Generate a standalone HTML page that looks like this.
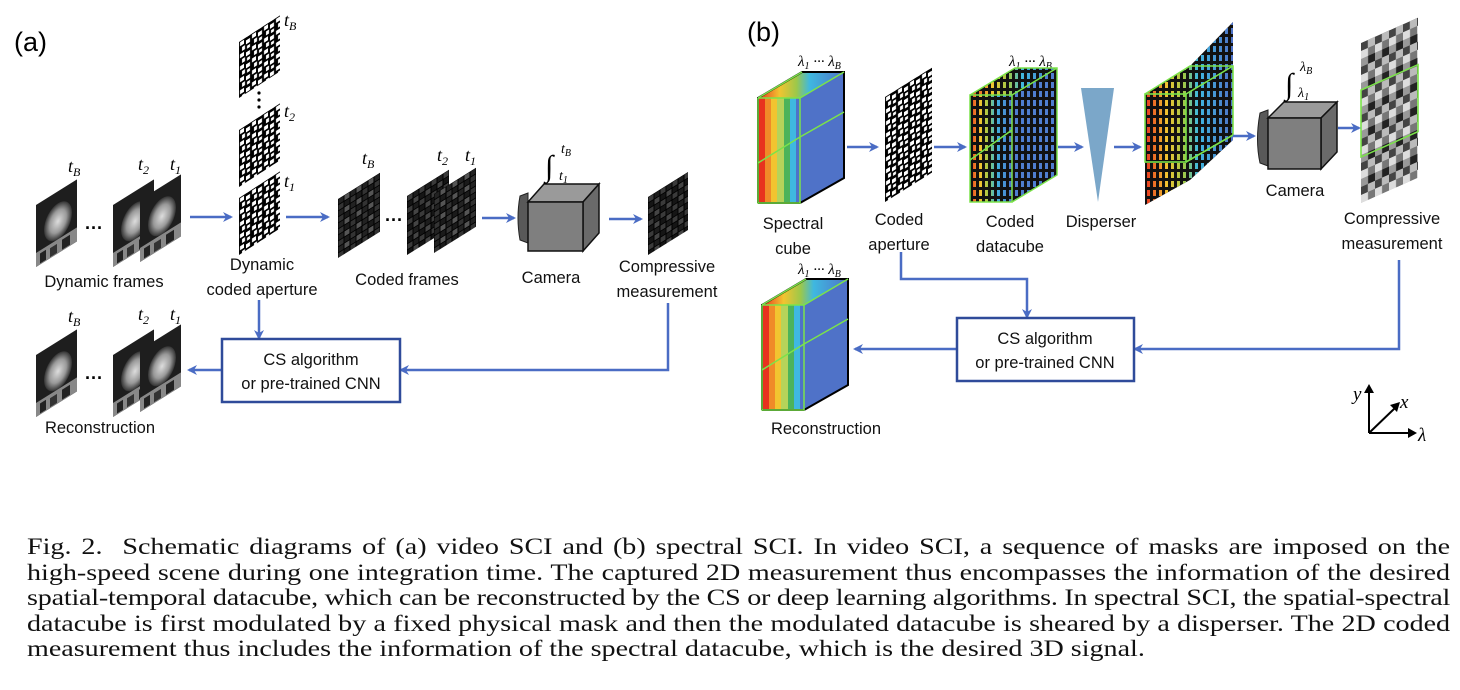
<!DOCTYPE html>
<html><head><meta charset="utf-8"><style>
body{margin:0;background:#fff;width:1460px;height:690px;overflow:hidden;position:relative}
.cap{position:absolute;left:27px;width:1166px;font-family:"Liberation Serif",serif;font-size:23px;line-height:25.5px;top:534px;color:#111;transform:scaleX(1.2205);transform-origin:0 0}
.cap div{text-align:justify;text-align-last:justify;white-space:nowrap}
.cap div.l{text-align-last:left}
.cap div.t{letter-spacing:-0.16px;word-spacing:-1px}
</style></head><body>
<svg width="1460" height="520" viewBox="0 0 1460 520" style="position:absolute;left:0;top:0" font-family="Liberation Sans, sans-serif">
<defs>
<marker id="ar" markerWidth="10" markerHeight="10" refX="8" refY="5" orient="auto" markerUnits="userSpaceOnUse"><path d="M0,0 L10,5 L0,10 L3,5 Z" fill="#4a6cc4"/></marker>
<pattern id="msk" width="12" height="12" patternUnits="userSpaceOnUse"><rect width="12" height="12" fill="#000"/><rect x="1" y="1" width="4" height="4" fill="#fff"/><rect x="7" y="3" width="4" height="4" fill="#fff"/><rect x="3" y="7" width="3" height="4" fill="#fff"/><rect x="8" y="9" width="3" height="3" fill="#fff"/></pattern>
<pattern id="cf" width="12" height="12" patternUnits="userSpaceOnUse"><rect width="12" height="12" fill="#000"/><rect x="0.5" y="0.5" width="5" height="5" fill="#222"/><rect x="6.5" y="0.5" width="5" height="5" fill="#555"/><rect x="0.5" y="6.5" width="5" height="5" fill="#333"/><rect x="6.5" y="6.5" width="5" height="5" fill="#1a1a1a"/></pattern>
<pattern id="cf2" width="12" height="12" patternUnits="userSpaceOnUse"><rect width="12" height="12" fill="#000"/><rect x="0.5" y="0.5" width="5" height="5" fill="#3a3a3a"/><rect x="6.5" y="0.5" width="5" height="5" fill="#1c1c1c"/><rect x="0.5" y="6.5" width="5" height="5" fill="#151515"/><rect x="6.5" y="6.5" width="5" height="5" fill="#444"/></pattern>
<pattern id="gm" width="14" height="24" patternUnits="userSpaceOnUse"><rect width="7" height="8" fill="#444"/><rect x="7" width="7" height="8" fill="#bbb"/><rect y="8" width="7" height="8" fill="#ddd"/><rect x="7" y="8" width="7" height="8" fill="#777"/><rect y="16" width="7" height="8" fill="#999"/><rect x="7" y="16" width="7" height="8" fill="#222"/></pattern>
<pattern id="wp" width="6" height="9" patternUnits="userSpaceOnUse"><rect x="1" y="1" width="3" height="6" fill="#fff"/></pattern>
<mask id="mk"><rect width="1460" height="520" fill="url(#wp)"/></mask>
<linearGradient id="spec" x1="0" x2="1"><stop offset="0" stop-color="#e8321e"/><stop offset=".25" stop-color="#f2c430"/><stop offset=".45" stop-color="#9cc84a"/><stop offset=".6" stop-color="#3fb8e0"/><stop offset="1" stop-color="#4f72c8"/></linearGradient>
<radialGradient id="blob" cx=".5" cy=".5" r=".5"><stop offset="0" stop-color="#ddd"/><stop offset=".6" stop-color="#999"/><stop offset="1" stop-color="#333"/></radialGradient>
<g id="frm"><rect width="41" height="62" fill="#1e1e1e"/><ellipse cx="22" cy="30" rx="14" ry="18" fill="url(#blob)"/><rect y="48" width="41" height="14" fill="#888"/><rect x="4" y="51" width="6" height="10" fill="#222"/><rect x="14" y="52" width="7" height="9" fill="#333"/><rect x="26" y="51" width="8" height="10" fill="#222"/></g>
</defs>

<text x="14" y="51" font-size="27">(a)</text>
<g font-family="Liberation Serif, serif" font-style="italic" font-size="18">
<text x="68" y="172">t<tspan font-size="12" dy="4">B</tspan></text>
<text x="138" y="170">t<tspan font-size="12" dy="4">2</tspan></text>
<text x="170" y="170">t<tspan font-size="12" dy="4">1</tspan></text>
<text x="68" y="322">t<tspan font-size="12" dy="4">B</tspan></text>
<text x="138" y="320">t<tspan font-size="12" dy="4">2</tspan></text>
<text x="170" y="320">t<tspan font-size="12" dy="4">1</tspan></text>
<text x="284" y="26">t<tspan font-size="12" dy="4">B</tspan></text>
<text x="284" y="117">t<tspan font-size="12" dy="4">2</tspan></text>
<text x="284" y="187">t<tspan font-size="12" dy="4">1</tspan></text>
<text x="362" y="164">t<tspan font-size="12" dy="4">B</tspan></text>
<text x="437" y="161">t<tspan font-size="12" dy="4">2</tspan></text>
<text x="465" y="161">t<tspan font-size="12" dy="4">1</tspan></text>
</g>
<g transform="translate(36,205) skewY(-32)"><use href="#frm"/></g>
<g transform="translate(113,205) skewY(-32)"><use href="#frm"/></g>
<g transform="translate(140,200) skewY(-32)"><use href="#frm"/></g>
<g transform="translate(36,355) skewY(-32)"><use href="#frm"/></g>
<g transform="translate(113,355) skewY(-32)"><use href="#frm"/></g>
<g transform="translate(140,350) skewY(-32)"><use href="#frm"/></g>
<text x="85" y="234" font-size="18" font-weight="bold">···</text>
<text x="85" y="384" font-size="18" font-weight="bold">···</text>
<g transform="translate(239,42) skewY(-33)"><rect width="41" height="56" fill="url(#msk)"/></g>
<g transform="translate(239,130) skewY(-33)"><rect width="41" height="57" fill="url(#msk)"/></g>
<g transform="translate(239,198) skewY(-33)"><rect width="41" height="57" fill="url(#msk)"/></g>
<circle cx="259" cy="93" r="1.6"/><circle cx="259" cy="100" r="1.6"/><circle cx="259" cy="107" r="1.6"/>
<g transform="translate(338,199) skewY(-32)"><rect width="42" height="59" fill="url(#cf)"/></g>
<g transform="translate(407,196) skewY(-32)"><rect width="42" height="59" fill="url(#cf2)"/></g>
<g transform="translate(434,194) skewY(-32)"><rect width="42" height="59" fill="url(#cf)"/></g>
<text x="385" y="226" font-size="18" font-weight="bold">···</text>
<g transform="translate(648,197) skewY(-32)"><rect width="40" height="58" fill="url(#cf2)"/></g>
<path d="M528,193 L520,196 Q516,218 520,240 L528,243 Z" fill="#595959" stroke="#222"/>
<polygon points="528,202 544,184 599,184 583,202" fill="#9a9a9a" stroke="#111" stroke-width="1.5"/>
<polygon points="583,202 599,184 599,233 583,251" fill="#6a6a6a" stroke="#111" stroke-width="1.5"/>
<rect x="528" y="202" width="55" height="49" fill="#7f7f7f" stroke="#111" stroke-width="1.5"/>
<text x="545" y="176" font-family="Liberation Serif,serif" font-size="30">∫</text>
<g font-family="Liberation Serif, serif" font-style="italic" font-size="14"><text x="561" y="153">t<tspan font-size="10" dy="3">B</tspan></text><text x="559" y="180">t<tspan font-size="10" dy="3">1</tspan></text></g>
<g stroke="#4a6cc4" stroke-width="2.5" fill="none" marker-end="url(#ar)">
<line x1="190" y1="217" x2="231" y2="217"/><line x1="286" y1="217" x2="328" y2="217"/><line x1="482" y1="218" x2="514" y2="218"/><line x1="609" y1="219" x2="641" y2="219"/>
<line x1="259" y1="300" x2="259" y2="338"/><polyline points="668,303 668,370 401,370"/><line x1="222" y1="370" x2="189" y2="370"/>
</g>
<rect x="222" y="339" width="178" height="63" fill="#fff" stroke="#2f4b9a" stroke-width="2.5"/>
<g font-size="16.5" text-anchor="middle" fill="#111">
<text x="104" y="287">Dynamic frames</text>
<text x="262" y="270">Dynamic</text><text x="262" y="295">coded aperture</text>
<text x="407" y="285">Coded frames</text>
<text x="551" y="283">Camera</text>
<text x="667" y="272">Compressive</text><text x="667" y="297">measurement</text>
<text x="311" y="365">CS algorithm</text><text x="311" y="389">or pre-trained CNN</text>
<text x="100" y="433">Reconstruction</text>
</g>

<text x="747" y="41" font-size="27">(b)</text>
<g font-family="Liberation Serif, serif" font-style="italic" font-size="15">
<text x="798" y="66">λ<tspan font-size="10" dy="3">1</tspan><tspan dy="-3"> ··· λ</tspan><tspan font-size="10" dy="3">B</tspan></text>
<text x="1009" y="66">λ<tspan font-size="10" dy="3">1</tspan><tspan dy="-3"> ··· λ</tspan><tspan font-size="10" dy="3">B</tspan></text>
<text x="798" y="274">λ<tspan font-size="10" dy="3">1</tspan><tspan dy="-3"> ··· λ</tspan><tspan font-size="10" dy="3">B</tspan></text>
</g>
<g id="scube">
<polygon points="758,98 800,98 844,72 802,72" fill="url(#spec)"/>
<rect x="758" y="98" width="7" height="105" fill="#e8321e"/><rect x="765" y="98" width="6" height="105" fill="#f08a28"/><rect x="771" y="98" width="6" height="105" fill="#f2c430"/><rect x="777" y="98" width="7" height="105" fill="#b6d35a"/><rect x="784" y="98" width="6" height="105" fill="#4cb35a"/><rect x="790" y="98" width="6" height="105" fill="#3fb8e0"/><rect x="796" y="98" width="4" height="105" fill="#4f72c8"/>
<polygon points="800,98 844,72 844,178 800,203" fill="#4f72c8"/>
<polyline points="758,203 758,98 802,72 844,72 844,178 800,203" fill="none" stroke="#000" stroke-width="2"/>
<line x1="758" y1="203" x2="800" y2="203" stroke="#000" stroke-width="2"/>
<g stroke="#7be34a" stroke-width="1.5" fill="none"><polyline points="758,98 800,98 800,203 758,203 758,98"/><line x1="800" y1="137" x2="844" y2="112"/><line x1="758" y1="163" x2="800" y2="137"/><line x1="758" y1="98" x2="802" y2="72"/><line x1="800" y1="98" x2="844" y2="72"/></g>
</g>
<use href="#scube" transform="translate(4,207)"/>
<g transform="translate(885,97) skewY(-32)"><rect width="47" height="105" fill="url(#msk)"/></g>
<polygon points="970,95 1012,95 1057,68 1015,68" fill="#111"/>
<polygon points="1012,95 1057,68 1057,175 1012,202" fill="#111"/>
<rect x="970" y="95" width="42" height="107" fill="#111"/>
<g mask="url(#mk)"><polygon points="970,95 1012,95 1057,68 1015,68" fill="url(#spec)"/><rect x="970" y="95" width="42" height="107" fill="url(#spec)"/><polygon points="1012,95 1057,68 1057,175 1012,202" fill="#4f7ed0"/></g>
<g stroke="#7be34a" stroke-width="1.5" fill="none"><rect x="970" y="95" width="42" height="107"/><polyline points="970,95 1015,68 1057,68 1057,175 1012,202"/><line x1="1012" y1="95" x2="1057" y2="68"/><line x1="970" y1="160" x2="1012" y2="130"/></g>
<polygon points="1081,88 1114,88 1098,202" fill="#7ba7c9"/>
<polygon points="1145,94 1190,66 1233,22 1233,140 1190,180 1145,205" fill="#111"/>
<g mask="url(#mk)"><polygon points="1145,94 1190,66 1233,22 1233,140 1190,180 1145,205" fill="url(#spec)"/></g>
<g stroke="#7be34a" stroke-width="1.6" fill="none"><rect x="1145" y="94" width="41" height="68"/><polyline points="1145,94 1190,66 1233,66 1233,135 1186,162"/><line x1="1186" y1="94" x2="1233" y2="66"/></g>
<path d="M1268,110 L1260,113 Q1255,140 1260,163 L1268,166 Z" fill="#595959" stroke="#222"/>
<polygon points="1268,118 1284,102 1337,102 1321,118" fill="#9a9a9a" stroke="#111" stroke-width="1.5"/>
<polygon points="1321,118 1337,102 1337,152 1321,169" fill="#6a6a6a" stroke="#111" stroke-width="1.5"/>
<rect x="1268" y="118" width="53" height="51" fill="#7f7f7f" stroke="#111" stroke-width="1.5"/>
<text x="1285" y="94" font-family="Liberation Serif,serif" font-size="30">∫</text>
<g font-family="Liberation Serif, serif" font-style="italic" font-size="14"><text x="1300" y="71">λ<tspan font-size="10" dy="3">B</tspan></text><text x="1298" y="97">λ<tspan font-size="10" dy="3">1</tspan></text></g>
<g transform="translate(1361,43) skewY(-24)"><rect width="57" height="160" fill="url(#gm)"/><rect x="0" y="47" width="57" height="67" fill="none" stroke="#7be34a" stroke-width="1.6"/></g>
<g stroke="#4a6cc4" stroke-width="2.5" fill="none" marker-end="url(#ar)">
<line x1="847" y1="147" x2="877" y2="147"/><line x1="934" y1="147" x2="965" y2="147"/><line x1="1058" y1="147" x2="1082" y2="147"/><line x1="1114" y1="147" x2="1140" y2="147"/><line x1="1233" y1="136" x2="1254" y2="136"/><line x1="1338" y1="128" x2="1359" y2="128"/>
<polyline points="901,252 901,279 1027,279 1027,317"/><line x1="957" y1="349" x2="855" y2="349"/><polyline points="1399,260 1399,349 1135,349"/>
</g>
<rect x="957" y="318" width="177" height="63" fill="#fff" stroke="#2f4b9a" stroke-width="2.5"/>
<g font-size="16.5" text-anchor="middle" fill="#111">
<text x="793" y="229">Spectral</text><text x="793" y="254">cube</text>
<text x="899" y="225">Coded</text><text x="899" y="250">aperture</text>
<text x="1010" y="227">Coded</text><text x="1010" y="252">datacube</text>
<text x="1101" y="227">Disperser</text>
<text x="1295" y="196">Camera</text>
<text x="1392" y="224">Compressive</text><text x="1392" y="249">measurement</text>
<text x="1045" y="344">CS algorithm</text><text x="1045" y="368">or pre-trained CNN</text>
<text x="826" y="434">Reconstruction</text>
</g>
<g stroke="#000" stroke-width="2" fill="none"><line x1="1369" y1="433" x2="1369" y2="392"/><line x1="1369" y1="433" x2="1395" y2="408"/><line x1="1369" y1="433" x2="1410" y2="433"/></g>
<polygon points="1364,393 1369,384 1374,393" fill="#000"/><polygon points="1390,405 1400,402 1397,412" fill="#000"/><polygon points="1408,428 1417,433 1408,438" fill="#000"/>
<g font-family="Liberation Serif, serif" font-style="italic" font-size="19"><text x="1353" y="400">y</text><text x="1400" y="408">x</text><text x="1418" y="441">λ</text></g>
</svg>
<div class="cap">
<div>Fig. 2.&nbsp; Schematic diagrams of (a) video SCI and (b) spectral SCI. In video SCI, a sequence of masks are imposed on the</div>
<div>high-speed scene during one integration time. The captured 2D measurement thus encompasses the information of the desired</div>
<div class="t">spatial-temporal datacube, which can be reconstructed by the CS or deep learning algorithms. In spectral SCI, the spatial-spectral</div>
<div>datacube is first modulated by a fixed physical mask and then the modulated datacube is sheared by a disperser. The 2D coded</div>
<div class="l">measurement thus includes the information of the spectral datacube, which is the desired 3D signal.</div>
</div>
</body></html>
